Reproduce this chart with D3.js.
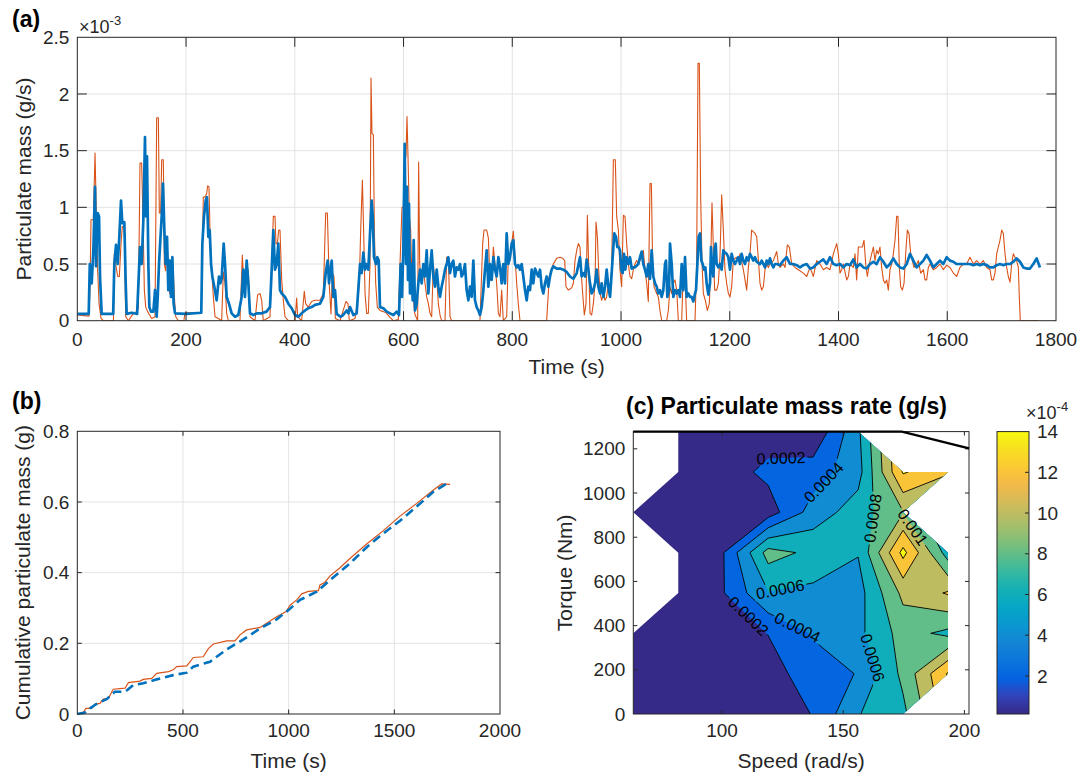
<!DOCTYPE html>
<html>
<head>
<meta charset="utf-8">
<title>Particulate mass</title>
<script src="https://cdn.jsdelivr.net/npm/d3@7"></script>
<style>
  html, body { margin: 0; padding: 0; background: #fff; }
  svg text { font-family: "Liberation Sans", Arial, Helvetica, sans-serif; fill: #262626; }
</style>
</head>
<body>
<svg id="fig" width="1080" height="778" viewBox="0 0 1080 778"></svg>
<script>
// ---------- (a) particulate mass rate, units of 1e-3 g/s : [time s, value] ----------
const pmRateA = [[0,0.06],[21,0.06],[23,0.5],[26.5,0.33],[29.5,0.62],[32.6,1.18],[34.4,0.48],[37.5,0.95],[40,0.92],[41.8,0.39],[44.8,0.06],[66,0.06],[68.1,0.5],[71.2,0.67],[74.3,0.5],[77.3,0.74],[80.4,1.06],[82.8,0.86],[86.5,0.87],[89,0.33],[90.8,0.06],[100,0.07],[110,0.06],[115.3,0.65],[118.4,0.5],[121.5,0.89],[124.5,1.62],[126.4,0.92],[128.2,1.45],[130.7,0.5],[132.5,0.12],[135.6,0.08],[139.9,0.08],[143,0.27],[146,0.035],[147.8,0.2],[150.3,0.5],[152.7,0.71],[155.2,0.92],[157.6,1.21],[160.1,0.8],[162.5,0.5],[165,0.74],[167.4,0.27],[169.9,0.53],[172.3,0.21],[174.8,0.56],[177.2,0.15],[179.7,0.065],[200,0.06],[228,0.07],[230,0.68],[233,0.92],[236.1,1.06],[238.5,1.09],[241,0.74],[243.5,0.8],[246,0.5],[248.4,0.39],[252,0.3],[256.3,0.18],[260.6,0.39],[263,0.33],[265.5,0.37],[269.2,0.68],[271.7,0.5],[274.7,0.21],[279,0.15],[283.9,0.065],[290,0.035],[296.2,0.05],[302.3,0.21],[305.4,0.45],[308.4,0.21],[311.5,0.53],[314.6,0.33],[317.6,0.065],[324,0.05],[330,0.065],[339,0.065],[348,0.08],[354.4,0.12],[357.5,0.45],[360.5,0.8],[363.6,0.45],[366.7,0.5],[369.7,0.68],[372.8,0.27],[375.9,0.24],[382,0.21],[388.1,0.15],[394.3,0.11],[400.4,0.05],[406.5,0.035],[412.6,0.065],[418.8,0.09],[424.9,0.11],[431,0.12],[437.2,0.14],[446.4,0.15],[452.5,0.21],[456.8,0.42],[460.5,0.53],[463,0.33],[467.9,0.53],[470.9,0.21],[474,0.27],[477,0.06],[484,0.035],[489,0.05],[495.4,0.09],[498.5,0.065],[501.6,0.12],[507.7,0.05],[513.8,0.065],[520,0.5],[523,0.42],[526.1,0.6],[529.2,0.45],[532.2,0.5],[535.3,0.45],[538.4,0.77],[541.4,1.06],[543.3,0.92],[545.7,0.56],[549.4,0.5],[551.8,0.56],[554.3,0.53],[556.7,0.12],[562.9,0.11],[569,0.08],[575.1,0.065],[581.3,0.05],[587.4,0.08],[591.7,0.05],[594.7,0.5],[597.2,0.21],[599.7,0.65],[602.1,1.56],[604.5,0.5],[606.4,1.18],[608.2,0.36],[610.1,1.03],[611.9,0.24],[614.4,0.5],[616.8,0.18],[618.7,0.71],[621.1,0.09],[624.2,0.15],[627.2,0.33],[630.3,0.45],[633.4,0.33],[636.4,0.5],[639.5,0.39],[642.6,0.62],[645.6,0.24],[648.7,0.45],[651.8,0.62],[654.8,0.39],[657.9,0.3],[661,0.45],[664,0.3],[667.1,0.21],[670.1,0.3],[673.2,0.37],[676.3,0.45],[679.3,0.5],[682.4,0.56],[685.5,0.42],[688.5,0.5],[691.6,0.53],[694.6,0.39],[697.7,0.47],[700.8,0.45],[703.8,0.5],[706.9,0.39],[710,0.42],[713,0.5],[716.1,0.27],[719.2,0.18],[722.2,0.3],[725.3,0.21],[728.4,0.53],[731.4,0.18],[734.5,0.12],[737.6,0.09],[740.6,0.05],[743.7,0.12],[746.8,0.27],[749.8,0.45],[752.9,0.62],[756,0.3],[759,0.5],[762.1,0.36],[765.2,0.56],[768.2,0.45],[771.3,0.39],[774.4,0.56],[777.4,0.47],[780.5,0.33],[783.5,0.5],[786.6,0.33],[789.7,0.77],[792.7,0.5],[795.8,0.56],[798.9,0.68],[801.9,0.71],[805,0.5],[808.1,0.47],[811.1,0.49],[814.2,0.45],[817.3,0.5],[820.3,0.39],[823.4,0.27],[826.5,0.18],[829.5,0.3],[832.6,0.27],[835.7,0.45],[838.7,0.33],[841.8,0.46],[844.9,0.42],[847.9,0.39],[851,0.45],[854,0.3],[857.1,0.24],[860.2,0.33],[863.2,0.39],[866.3,0.3],[869.4,0.39],[872.4,0.45],[875.5,0.48],[881.6,0.46],[887.8,0.46],[894,0.45],[900,0.43],[906.2,0.39],[912.3,0.37],[918.5,0.42],[921.5,0.49],[924.6,0.56],[927.6,0.39],[930.7,0.42],[933.8,0.39],[936.8,0.54],[939.9,0.45],[943,0.33],[946,0.24],[949.1,0.27],[952.2,0.33],[955.2,0.45],[958.3,0.3],[961.4,0.24],[964.4,0.33],[967.5,0.21],[970.6,0.3],[973.6,0.45],[976.7,0.3],[979.8,0.21],[982.8,0.42],[985.9,0.65],[987.7,0.77],[990.8,0.74],[993.2,0.65],[995.7,0.65],[998.1,0.62],[1000.6,0.45],[1003,0.42],[1005.5,0.59],[1007.9,0.45],[1010.4,0.56],[1013.5,0.5],[1016.5,0.56],[1019.6,0.46],[1022.7,0.47],[1025.7,0.47],[1031.9,0.5],[1034.9,0.56],[1038,0.61],[1041,0.5],[1044.1,0.45],[1047.2,0.39],[1050.2,0.5],[1053.3,0.37],[1056.4,0.62],[1059.4,0.39],[1062.5,0.33],[1065.6,0.3],[1068.6,0.24],[1071.7,0.27],[1074.8,0.21],[1077.8,0.27],[1080.9,0.5],[1082.7,0.53],[1085.2,0.21],[1088.3,0.27],[1090.1,0.68],[1093.2,0.5],[1096.2,0.21],[1099.3,0.27],[1102.4,0.24],[1105.4,0.27],[1108.5,0.21],[1111.6,0.5],[1114.6,0.27],[1117.7,0.56],[1120.7,0.21],[1123.8,0.24],[1126.9,0.21],[1129.9,0.21],[1133,0.17],[1136.1,0.24],[1137.9,0.27],[1140.4,0.5],[1142.8,0.74],[1145.3,0.77],[1147.7,0.53],[1150.2,0.5],[1152.6,0.45],[1155.1,0.47],[1157.5,0.33],[1160.6,0.23],[1163.7,0.33],[1165.5,0.65],[1167.3,0.5],[1169.8,0.39],[1172.2,0.62],[1174.1,0.68],[1175.9,0.5],[1179,0.47],[1182,0.5],[1185.1,0.45],[1188.2,0.62],[1191.2,0.6],[1194.3,0.59],[1197.4,0.56],[1200.4,0.45],[1203.5,0.59],[1206.6,0.53],[1209.6,0.5],[1212.7,0.53],[1215.8,0.56],[1218.8,0.5],[1221.9,0.59],[1224.9,0.53],[1228,0.5],[1231.1,0.56],[1234.1,0.53],[1237.2,0.59],[1240.3,0.56],[1243.3,0.53],[1246.4,0.56],[1249.5,0.52],[1255.6,0.5],[1258.7,0.53],[1261.7,0.5],[1264.8,0.47],[1267.9,0.53],[1270.9,0.5],[1274,0.55],[1277.1,0.5],[1280.1,0.47],[1283.2,0.5],[1286.3,0.5],[1292.4,0.49],[1298.5,0.53],[1304.6,0.56],[1307.7,0.53],[1310.8,0.5],[1316.9,0.5],[1323,0.49],[1329.2,0.47],[1335.3,0.49],[1341.4,0.5],[1347.6,0.46],[1353.7,0.47],[1359.9,0.5],[1366,0.52],[1372.1,0.54],[1378.2,0.5],[1384.4,0.56],[1390.5,0.5],[1396.6,0.49],[1402.8,0.5],[1408.9,0.47],[1415,0.5],[1421.2,0.49],[1427.3,0.54],[1433.4,0.47],[1439.5,0.5],[1445.7,0.47],[1451.8,0.46],[1457.9,0.5],[1464.1,0.52],[1470.2,0.5],[1476.3,0.56],[1482.5,0.52],[1488.6,0.47],[1494.7,0.5],[1500.8,0.55],[1507,0.5],[1513.1,0.47],[1519.2,0.46],[1525.4,0.5],[1531.5,0.59],[1537.6,0.53],[1543.7,0.47],[1549.9,0.5],[1556,0.53],[1562.1,0.58],[1568.3,0.53],[1574.4,0.47],[1580.5,0.5],[1586.7,0.53],[1592.8,0.5],[1598.9,0.56],[1605,0.53],[1611.2,0.52],[1617.3,0.5],[1629.6,0.5],[1641.8,0.5],[1648,0.49],[1654.1,0.5],[1660.2,0.49],[1666.3,0.5],[1672.5,0.49],[1678.6,0.47],[1684.7,0.47],[1690.9,0.49],[1697,0.5],[1703.1,0.49],[1709.3,0.5],[1715.4,0.5],[1721.5,0.52],[1727.6,0.55],[1733.8,0.52],[1739.9,0.47],[1746,0.46],[1752.2,0.46],[1758.3,0.5],[1764.4,0.55],[1770.5,0.47]];

const pmRateB = [[0,0.05],[21.5,0.04],[23.4,0.3],[25.2,0.89],[29.5,0.89],[32.6,1.48],[35,0.95],[37.5,0.44],[40,0.15],[43.6,0.02],[48,0],[66.5,0],[68.1,0.59],[70.6,0.5],[74.3,0.39],[77.3,0.39],[80.4,0.68],[82.8,0.83],[86.5,0.83],[89,0.035],[94,0],[103,0.065],[109.2,0.08],[112.3,0.11],[115.3,1.39],[118.4,1.39],[121.5,0.74],[123.3,0.27],[125.8,0.12],[129.4,0.08],[136.8,0.02],[142.9,0.035],[146,1.79],[149.1,1.79],[150.9,0.95],[153.3,0.95],[155.2,1.42],[158.2,1.42],[160.1,0.5],[162.5,0.44],[165,0.68],[167.4,0.5],[169.9,0.24],[173.6,0.27],[176,0.5],[178.5,0.21],[181,0.035],[186,0],[196,0],[198,0.07],[228,0.07],[231.8,1.09],[234.9,1.09],[237.9,1.12],[239.8,1.19],[242.2,1.18],[244,0.8],[247.1,0.45],[250.2,0.21],[253.3,0.035],[259.4,0.02],[265.5,0],[268.6,0.43],[271.7,0.33],[274.7,0.065],[277.8,0],[299.2,0],[303.5,0.58],[305.9,0.36],[308.4,0.21],[311.5,0.47],[314.6,0.44],[317.6,0.035],[326.8,0],[331.7,0.23],[336,0.24],[339.1,0.18],[342.1,0],[354.4,0.035],[357.5,0.5],[360.5,0.92],[363.6,0.92],[365.4,0.68],[367.9,0.68],[370.4,0.8],[372.8,0.8],[375.9,0.36],[378.9,0.18],[382,0.035],[388.1,0],[400.4,0],[403.5,0.2],[405.3,0.035],[412.6,0],[417.5,0.26],[420,0.15],[424.9,0.12],[431,0.17],[437.2,0.18],[446.4,0.18],[452.5,0.24],[456.8,0.95],[459.9,0.95],[463.6,0.3],[466.6,0.06],[469.1,0.42],[472.1,0.39],[474.6,0.02],[483.2,0],[494.2,0.17],[497.9,0.15],[500.3,0],[510.8,0.02],[515,0.15],[518.7,0.33],[521.2,0.8],[524.3,1.24],[526.7,0.77],[529.2,0.24],[532.2,0.065],[535.3,0.065],[538.4,0.5],[540.2,2.14],[542,1.65],[544.5,1.64],[546.3,0.8],[548.8,0.33],[551.8,0.12],[556.7,0.09],[562.9,0.08],[569,0.065],[575.1,0.03],[581.3,0],[590.5,0.01],[593.5,0.5],[597.2,1.0],[599.7,1.0],[601.5,1.39],[604.5,1.45],[606.4,1.8],[608.2,1.45],[610.7,0.92],[613.1,0.8],[615.6,0.33],[618,0.21],[620.5,0.065],[622.9,0.035],[626,0],[627.8,1.4],[629.7,0.5],[632.1,0.36],[636.4,0.44],[639.5,0.33],[642.6,0.21],[645.6,0.15],[648.7,0.065],[651.8,0.035],[654.8,0.5],[657.9,0.33],[661,0.39],[664,0.15],[667.1,0.05],[670.1,0],[676.3,0],[679.3,0.56],[682.4,0.56],[685.5,0.035],[688.5,0],[740.6,0],[745.6,0.68],[748,0.8],[752.9,0.8],[756,0.73],[759,0.36],[762.1,0.36],[765.2,0.65],[768.2,0.5],[771.3,0.33],[774.4,0.065],[777.4,0.035],[780.5,0.27],[783.5,0],[789.7,0.035],[792.7,0.56],[795.8,0.53],[798.9,0.68],[801.9,0.79],[805,0.56],[808.1,0.33],[811.1,0.15],[814.2,0],[863.2,0],[868.1,0.39],[871.2,0.44],[875.5,0.5],[881.6,0.55],[887.8,0.56],[892.7,0.55],[896.4,0.53],[898.8,0.3],[903.1,0.27],[909.3,0.29],[912.3,0.33],[915.4,0.53],[918.5,0.62],[921.5,0.68],[924.6,0.65],[926.4,0.45],[929.5,0.24],[932.5,0.05],[935.6,0.15],[938.1,0.93],[940.5,0.5],[943,0.065],[946,0.05],[949.1,0.15],[952.2,0.33],[954,0.87],[956.5,0.74],[958.9,0.45],[961.4,0.24],[964.4,0.18],[967.5,0.24],[970.6,0.18],[973.6,0.21],[976.7,0.33],[979.8,0.3],[982.8,0.45],[985.9,1.42],[989.5,1.42],[992,0.92],[995.1,0.8],[998.1,0.45],[1001.2,0.3],[1004.3,0.93],[1007.3,0.92],[1010.4,0.68],[1013.5,0.5],[1016.5,0.39],[1019.6,0.37],[1022.7,0.45],[1025.7,0.5],[1028.8,0.53],[1031.9,0.5],[1034.9,0.53],[1038,0.56],[1041,0.62],[1044.1,0.45],[1047.2,0.33],[1050.2,0.17],[1053.3,1.21],[1055.8,1.21],[1058.2,0.5],[1060.7,0.3],[1063.1,0.27],[1065.6,0.24],[1068.6,0.21],[1071.7,0.09],[1074.8,0],[1084,0],[1087,0.09],[1090.1,0.3],[1093.2,0.24],[1096.2,0.33],[1099.3,0.36],[1102.4,0.27],[1105.4,0],[1111.6,0],[1114.6,0.45],[1117.7,0.39],[1120.7,0],[1136.1,0],[1139.1,0.5],[1141.6,2.27],[1144,2.27],[1146.5,1.09],[1149,0.5],[1151.4,0.24],[1155.1,0.18],[1158.7,0.09],[1162.4,0.15],[1164.9,0.5],[1167.3,1.04],[1169.8,0.65],[1172.2,0.27],[1175.9,0.27],[1179,0.33],[1182,0.56],[1185.1,1.11],[1188.2,0.8],[1191.2,0.45],[1194.3,0.33],[1197.4,0.24],[1200.5,0.21],[1203.5,0.3],[1206.6,0.54],[1212.7,0.56],[1215.8,0.53],[1218.8,0.59],[1225,0.45],[1231.1,0.27],[1234.2,0.47],[1237.2,0.59],[1240.3,0.8],[1246.4,0.77],[1249.5,0.74],[1252.6,0.54],[1255.6,0.33],[1258.7,0.27],[1261.8,0.3],[1264.8,0.45],[1267.9,0.5],[1271,0.47],[1274,0.5],[1280.2,0.53],[1286.3,0.61],[1289.4,0.5],[1292.4,0.47],[1298.6,0.5],[1301.6,0.47],[1305.9,0.67],[1309.6,0.65],[1313.9,0.5],[1320,0.47],[1326.1,0.45],[1335.3,0.42],[1341.5,0.39],[1347.6,0.47],[1353.7,0.39],[1359.9,0.53],[1366,0.5],[1372.1,0.45],[1378.2,0.47],[1384.4,0.45],[1390.5,0.59],[1396.6,0.68],[1399.7,0.59],[1402.8,0.42],[1405.8,0.45],[1408.9,0.5],[1415,0.36],[1418.1,0.39],[1421.2,0.5],[1427.3,0.47],[1430.4,0.59],[1433.4,0.36],[1436.5,0.65],[1443.8,0.65],[1446.9,0.71],[1450,0.5],[1453,0.39],[1456.7,0.5],[1461,0.59],[1464.1,0.65],[1467.1,0.53],[1470.2,0.62],[1473.3,0.59],[1476.3,0.65],[1479.4,0.47],[1482.5,0.36],[1485.5,0.33],[1488.6,0.36],[1491.6,0.27],[1494.7,0.45],[1497.8,0.5],[1500.8,0.59],[1503.9,0.71],[1507,0.92],[1509.4,0.92],[1511.9,0.47],[1514.3,0.3],[1517.4,0.27],[1520.5,0.33],[1523.5,0.59],[1526.6,0.8],[1529.6,0.77],[1532.7,0.59],[1535.8,0.53],[1538.8,0.47],[1543.8,0.5],[1546.8,0.53],[1551.1,0.42],[1556,0.45],[1559.1,0.36],[1562.1,0.36],[1565.2,0.47],[1568.3,0.5],[1574.4,0.45],[1580.5,0.47],[1586.7,0.5],[1592.8,0.45],[1598.9,0.49],[1605,0.47],[1611.2,0.42],[1617.3,0.39],[1623.4,0.47],[1629.6,0.5],[1635.7,0.5],[1641.8,0.56],[1648,0.5],[1654.1,0.53],[1660.2,0.5],[1666.3,0.53],[1672.5,0.47],[1678.6,0.45],[1681.7,0.36],[1684.7,0.36],[1687.8,0.42],[1690.9,0.59],[1693.9,0.65],[1697,0.71],[1700.1,0.8],[1703.1,0.77],[1706.2,0.59],[1709.3,0.47],[1712.3,0.39],[1715.4,0.34],[1718.5,0.5],[1721.5,0.59],[1724.6,0.56],[1727.6,0.53],[1730.7,0.47],[1732.6,0.2],[1734.4,0],[1767.5,0]];

const rateTimeTicks = [0, 200, 400, 600, 800, 1000, 1200, 1400, 1600, 1800];
const rateTicks = [0, 0.5, 1, 1.5, 2, 2.5];

// ---------- (b) cumulative particulate mass, g : [time s, value] ----------
const cumMassA = [[0,0],[36,0.004],[60,0.016],[100,0.032],[139,0.042],[178,0.063],[226,0.063],[265,0.082],[312,0.087],[376,0.098],[454,0.11],[518,0.117],[549,0.134],[628,0.148],[707,0.183],[786,0.211],[865,0.242],[943,0.268],[999,0.294],[1054,0.323],[1133,0.346],[1196,0.379],[1290,0.426],[1369,0.472],[1448,0.511],[1527,0.547],[1606,0.587],[1685,0.629],[1764,0.658]];
const cumMassB = [[0,0],[28,0.004],[41,0.016],[68,0.016],[84,0.028],[107,0.03],[123,0.042],[147,0.044],[170,0.07],[226,0.073],[242,0.089],[297,0.093],[312,0.098],[352,0.101],[376,0.115],[431,0.12],[454,0.125],[470,0.134],[518,0.136],[549,0.16],[596,0.162],[620,0.185],[644,0.198],[707,0.207],[746,0.207],[770,0.224],[801,0.238],[865,0.245],[896,0.257],[943,0.275],[988,0.29],[1007,0.308],[1038,0.323],[1062,0.34],[1093,0.347],[1141,0.349],[1148,0.365],[1172,0.373],[1196,0.391],[1243,0.414],[1290,0.44],[1369,0.481],[1448,0.519],[1527,0.56],[1606,0.596],[1685,0.634],[1724,0.651],[1764,0.65]];
const cumTimeTicks = [0, 500, 1000, 1500, 2000];
const cumTicks = [0, 0.2, 0.4, 0.6, 0.8];

// ---------- (c) engine map of particulate mass rate, g/s ----------
const pmSpeed  = [63.4, 81.95, 100.5, 119.05, 137.6, 156.15, 174.7, 193.25];   // rad/s
const pmTorque = [0, 182.6, 365.1, 547.7, 730.3, 912.9, 1095.4, 1278];         // Nm
// one row per torque (first row = 0 Nm), one column per speed; null = no operating point
const pmRateGrid = [
  [0.000013, 0.00003, 0.00004, 0.00005, 0.00021, 0.00059, 0.00075, null],
  [0.00003, 0.00004, 0.00006, 0.00012, 0.0003, 0.00041, 0.00085, 0.00142],
  [0.00004, 0.00005, 0.00008, 0.000205, 0.00042, 0.00055, 0.00088, 0.00075],
  [null, 0.00006, 0.00019, 0.00059, 0.00055, 0.00052, 0.00105, 0.00122],
  [null, 0.00007, 0.00019, 0.00088, 0.00075, 0.00061, 0.00146, 0.0007],
  [0.00006, 0.00007, 0.0001, 0.0001, 0.00049, 0.0007, 0.00099, null],
  [null, 0.00006, 0.0001, 0.00025, 0.0003, 0.00052, 0.00142, 0.00125],
  [null, 0.00005, 0.00008, 0.0001, 0.00003, 0.00056, null, null]
];
const pmLevels = [0.0002, 0.0004, 0.0006, 0.0008, 0.0010, 0.0012, 0.0014];
const pmColorLimits = [0.000013, 0.0014];
const maxTorqueSpeed = [63.4, 174.2, 201.9];
const maxTorqueValue = [1278, 1278, 1202];
const speedTicks = [100, 150, 200];
const torqueTicks = [0, 200, 400, 600, 800, 1000, 1200];
const colorbarTicks = [2, 4, 6, 8, 10, 12, 14];   // x 1e-4
// labelled contour levels with the map point they sit near
const contourLabels = [
  {level: 0.0002, speed: 124.4, torque: 1142},
  {level: 0.0004, speed: 141.7, torque: 1051},
  {level: 0.0008, speed: 162.0, torque: 886},
  {level: 0.0010, speed: 176.9, torque: 832},
  {level: 0.0006, speed: 124.0, torque: 564},
  {level: 0.0002, speed: 110.6, torque: 440},
  {level: 0.0004, speed: 130.6, torque: 380},
  {level: 0.0006, speed: 163.3, torque: 259}
];

// parula colour map (every 4th entry of the 64-colour table)
const parulaStops = ["#352a87","#3243ba","#0363e1","#0d75dc","#1485d4","#0998d1","#06a7c6","#15b1b4","#38b99e","#65be86","#92bf73","#b7bd64","#d9ba56","#f8ba44","#fccf2e","#f5e41d","#f9fb0e"];

// ================= drawing =================
const svg = d3.select('#fig');
const defs = svg.append('defs');
const AX = '#262626', GRID = '#e3e3e3', BLUE = '#0072bd', ORANGE = '#d95319';
const TICK_FS = 19, LABEL_FS = 21;

const parula = d3.scaleLinear()
  .domain(parulaStops.map((_, i) => i === parulaStops.length - 1 ? 1 : i * 4 / 63))
  .range(parulaStops).interpolate(d3.interpolateRgb).clamp(true);

function drawGrid(g, x, y, xTicks, yTicks) {
  const [xa, xb] = x.range(), [yb, ya] = y.range();
  const gg = g.append('g').attr('stroke', GRID).attr('stroke-width', 1);
  xTicks.filter(v => x(v) > xa + 1 && x(v) < xb - 1).forEach(v =>
    gg.append('line').attr('x1', x(v)).attr('x2', x(v)).attr('y1', ya).attr('y2', yb));
  yTicks.filter(v => y(v) < yb - 1 && y(v) > ya + 1).forEach(v =>
    gg.append('line').attr('x1', xa).attr('x2', xb).attr('y1', y(v)).attr('y2', y(v)));
}

function drawFrame(g, x, y, xTicks, yTicks, o) {
  const [xa, xb] = x.range(), [yb, ya] = y.range();
  const tl = o.tickLen;
  let d = '';
  xTicks.filter(v => x(v) > xa + 1 && x(v) < xb - 1).forEach(v => {
    d += `M${x(v)},${yb}v${-tl}M${x(v)},${ya}v${tl}`;
  });
  yTicks.filter(v => y(v) < yb - 1 && y(v) > ya + 1).forEach(v => {
    d += `M${xa},${y(v)}h${tl}M${xb},${y(v)}h${-tl}`;
  });
  g.append('path').attr('d', d).attr('stroke', AX).attr('stroke-width', 1).attr('fill', 'none');
  g.append('rect').attr('x', xa).attr('y', ya).attr('width', xb - xa).attr('height', yb - ya)
    .attr('fill', 'none').attr('stroke', AX).attr('stroke-width', 1);
  g.append('g').selectAll('text').data(xTicks).join('text')
    .attr('x', v => x(v)).attr('y', yb + o.xLabelDy).attr('text-anchor', 'middle')
    .attr('font-size', TICK_FS).text(v => String(v));
  g.append('g').selectAll('text').data(yTicks).join('text')
    .attr('x', xa - 8).attr('y', v => y(v)).attr('dy', '0.35em').attr('text-anchor', 'end')
    .attr('font-size', TICK_FS).text(v => String(v));
}

function axisTitle(g, text, x, y, rotate) {
  g.append('text').attr('transform', `translate(${x},${y})` + (rotate ? ` rotate(${rotate})` : ''))
    .attr('text-anchor', 'middle').attr('font-size', LABEL_FS).text(text);
}

function exponentLabel(g, x, y, exp) {
  const t = g.append('text').attr('x', x).attr('y', y).attr('font-size', 18);
  t.append('tspan').text('\u00d710');
  t.append('tspan').attr('font-size', 13).attr('dy', -8).text(exp);
}

function panelLetter(g, text, x, y) {
  g.append('text').attr('x', x).attr('y', y).attr('font-size', 23).attr('font-weight', 'bold')
    .style('fill', '#000').text(text);
}

// ---------- panel (a) ----------
{
  const g = svg.append('g');
  const x = d3.scaleLinear().domain([0, 1800]).range([77.3, 1056]);
  const y = d3.scaleLinear().domain([0, 2.5]).range([320.7, 37.3]);
  defs.append('clipPath').attr('id', 'clipA').append('rect')
    .attr('x', 77.3).attr('y', 37.3).attr('width', 1056 - 77.3).attr('height', 320.7 - 37.3);
  drawGrid(g, x, y, rateTimeTicks, rateTicks);
  const line = d3.line().x(d => x(d[0])).y(d => y(d[1]));
  const lines = g.append('g').attr('clip-path', 'url(#clipA)');
  lines.append('path').attr('d', line(pmRateB)).attr('fill', 'none').attr('stroke', ORANGE)
    .attr('stroke-width', 1.1).attr('stroke-linejoin', 'round');
  lines.append('path').attr('d', line(pmRateA)).attr('fill', 'none').attr('stroke', BLUE)
    .attr('stroke-width', 2.7).attr('stroke-linejoin', 'round');
  drawFrame(g, x, y, rateTimeTicks, rateTicks, {tickLen: 9.5, xLabelDy: 25});
  exponentLabel(g, 79, 33, '-3');
  axisTitle(g, 'Time (s)', (77.3 + 1056) / 2, 374);
  axisTitle(g, 'Particulate mass (g/s)', 31, (37.3 + 320.7) / 2, -90);
  panelLetter(g, '(a)', 12, 27);
}

// ---------- panel (b) ----------
{
  const g = svg.append('g');
  const x = d3.scaleLinear().domain([0, 2000]).range([77.3, 500]);
  const y = d3.scaleLinear().domain([0, 0.8]).range([714, 431.3]);
  drawGrid(g, x, y, cumTimeTicks, cumTicks);
  const line = d3.line().x(d => x(d[0])).y(d => y(d[1]));
  g.append('path').attr('d', line(cumMassB)).attr('fill', 'none').attr('stroke', ORANGE)
    .attr('stroke-width', 1.2);
  g.append('path').attr('d', line(cumMassA)).attr('fill', 'none').attr('stroke', BLUE)
    .attr('stroke-width', 2.6).attr('stroke-dasharray', '9,5');
  drawFrame(g, x, y, cumTimeTicks, cumTicks, {tickLen: 4.5, xLabelDy: 23});
  axisTitle(g, 'Time (s)', (77.3 + 500) / 2, 768);
  axisTitle(g, 'Cumulative particulate mass (g)', 30, (431.3 + 714) / 2, -90);
  panelLetter(g, '(b)', 12, 409);
}

// ---------- panel (c) ----------
{
  const g = svg.append('g');
  const nx = pmSpeed.length, ny = pmTorque.length;
  const x = d3.scaleLinear().domain([pmSpeed[0], d3.max(maxTorqueSpeed)]).range([633.3, 969]);
  const y = d3.scaleLinear().domain([0, pmTorque[ny - 1]]).range([714, 431.6]);
  const val = (i, j) => (i >= 0 && i < nx && j >= 0 && j < ny) ? pmRateGrid[j][i] : null;

  // fill missing nodes so the contouring sees a complete field (masked afterwards)
  const filled = pmRateGrid.map(r => r.slice());
  for (let j = 0; j < ny; j++) for (let i = 0; i < nx; i++) {
    if (val(i, j) !== null) continue;
    const est = [];
    for (const di of [-1, 1]) for (const dj of [-1, 1]) {
      const a = val(i + di, j), b = val(i, j + dj), c = val(i + di, j + dj);
      if (a !== null && b !== null && c !== null) est.push(a + b - c);
    }
    if (est.length) filled[j][i] = d3.mean(est);
  }
  for (let j = 0; j < ny; j++) for (let i = 0; i < nx; i++) {
    if (filled[j][i] !== null) continue;
    const nb = [[i-1,j],[i+1,j],[i,j-1],[i,j+1]]
      .filter(([a, b]) => a >= 0 && a < nx && b >= 0 && b < ny && filled[b][a] !== null)
      .map(([a, b]) => filled[b][a]);
    filled[j][i] = d3.mean(nb);
  }
  const flat = filled.flat();

  // grid coordinates of d3.contours -> data -> pixels
  const gxSpeed = d3.scaleLinear().domain([0.5, nx - 0.5]).range([pmSpeed[0], pmSpeed[nx - 1]]);
  const gyTorque = d3.scaleLinear().domain([0.5, ny - 0.5]).range([pmTorque[0], pmTorque[ny - 1]]);
  const px = gx => x(gxSpeed(gx)), py = gy => y(gyTorque(gy));
  const path = d3.geoPath(d3.geoTransform({point(a, b) { this.stream.point(px(a), py(b)); }}));

  // region covered by measured points: whole cells, or the triangle of three valid corners
  let region = '';
  for (let j = 0; j < ny - 1; j++) for (let i = 0; i < nx - 1; i++) {
    const c = [[i, j], [i + 1, j], [i + 1, j + 1], [i, j + 1]].filter(([a, b]) => val(a, b) !== null);
    if (c.length >= 3) region += 'M' + c.map(([a, b]) => `${x(pmSpeed[a])},${y(pmTorque[b])}`).join('L') + 'Z';
  }
  defs.append('clipPath').attr('id', 'clipMap').append('path').attr('d', region);

  const norm = v => (v - pmColorLimits[0]) / (pmColorLimits[1] - pmColorLimits[0]);
  const contourGen = d3.contours().size([nx, ny]);
  const bandThresholds = [d3.min(flat) - 1e-6].concat(pmLevels);
  const bands = contourGen.thresholds(bandThresholds)(flat);

  const map = g.append('g').attr('clip-path', 'url(#clipMap)');
  map.append('g').selectAll('path').data(bands).join('path')
    .attr('d', path)
    .attr('fill', (d, k) => parula(norm(k === 0 ? pmColorLimits[0] : d.value)))
    .attr('stroke', (d, k) => parula(norm(k === 0 ? pmColorLimits[0] : d.value)))
    .attr('stroke-width', 0.3);

  // contour labels: snap to the nearest point of the level line
  const mask = defs.append('mask').attr('id', 'labelMask').attr('maskUnits', 'userSpaceOnUse')
    .attr('x', 0).attr('y', 0).attr('width', 1080).attr('height', 778);
  mask.append('rect').attr('x', 0).attr('y', 0).attr('width', 1080).attr('height', 778).attr('fill', '#fff');

  function nearestOnLevel(level, sx, sy) {
    const c = contourGen.contour(flat, level);
    let best = null, bd = Infinity;
    c.coordinates.forEach(poly => poly.forEach(ring => {
      const pts = ring.map(([a, b]) => [px(a), py(b)]);
      for (let k = 0; k < pts.length - 1; k++) {
        const [ax, ay] = pts[k], [bx, by] = pts[k + 1];
        const dx = bx - ax, dy = by - ay, L = dx * dx + dy * dy;
        if (L === 0) continue;
        let t = ((sx - ax) * dx + (sy - ay) * dy) / L;
        t = Math.max(0, Math.min(1, t));
        const qx = ax + t * dx, qy = ay + t * dy;
        const dd = (qx - sx) ** 2 + (qy - sy) ** 2;
        if (dd < bd) { bd = dd; best = {x: qx, y: qy, ang: Math.atan2(dy, dx) * 180 / Math.PI}; }
      }
    }));
    return best;
  }

  const labelG = g.append('g');
  contourLabels.forEach(lb => {
    const p = nearestOnLevel(lb.level, x(lb.speed), y(lb.torque));
    if (!p) return;
    let a = p.ang;
    if (a > 90) a -= 180;
    if (a <= -90) a += 180;
    const t = labelG.append('text')
      .attr('transform', `translate(${p.x},${p.y}) rotate(${a})`)
      .attr('text-anchor', 'middle').attr('dy', '0.35em').attr('font-size', 16)
      .style('fill', '#000').text(String(lb.level));
    const w = t.node().getComputedTextLength();
    mask.append('rect').attr('x', -w / 2 - 2).attr('y', -7.5).attr('width', w + 4).attr('height', 15)
      .attr('transform', `translate(${p.x},${p.y}) rotate(${a})`).attr('fill', '#000');
  });

  map.append('g').attr('mask', 'url(#labelMask)').selectAll('path').data(bands.slice(1)).join('path')
    .attr('d', path).attr('fill', 'none').attr('stroke', '#000').attr('stroke-width', 0.9)
    .attr('stroke-linejoin', 'round');
  labelG.raise();

  drawFrame(g, x, y, speedTicks, torqueTicks, {tickLen: 4, xLabelDy: 23});

  // maximum-torque curve
  g.append('path')
    .attr('d', d3.line().x(d => x(d[0])).y(d => y(d[1]))(maxTorqueSpeed.map((s, k) => [s, maxTorqueValue[k]])))
    .attr('fill', 'none').attr('stroke', '#000').attr('stroke-width', 2.2);

  axisTitle(g, 'Speed (rad/s)', (633.3 + 969) / 2, 768);
  axisTitle(g, 'Torque (Nm)', 572, (431.6 + 714) / 2, -90);
  g.append('text').attr('x', 786.5).attr('y', 414).attr('text-anchor', 'middle')
    .attr('font-size', 23).attr('font-weight', 'bold').style('fill', '#000')
    .text('(c) Particulate mass rate (g/s)');

  // colour bar
  const cb = {x: 997, w: 32};
  const cy = d3.scaleLinear().domain(pmColorLimits).range([714, 431.6]);
  const grad = defs.append('linearGradient').attr('id', 'parulaGrad')
    .attr('x1', 0).attr('y1', 1).attr('x2', 0).attr('y2', 0);
  d3.range(0, 1.0001, 1 / 32).forEach(t =>
    grad.append('stop').attr('offset', t).attr('stop-color', parula(t)));
  g.append('rect').attr('x', cb.x).attr('y', cy.range()[1]).attr('width', cb.w)
    .attr('height', cy.range()[0] - cy.range()[1]).attr('fill', 'url(#parulaGrad)')
    .attr('stroke', AX).attr('stroke-width', 1);
  let cd = '';
  colorbarTicks.forEach(v => { if (cy(v * 1e-4) > cy.range()[1] + 1) cd += `M${cb.x + cb.w},${cy(v * 1e-4)}h-4`; });
  g.append('path').attr('d', cd).attr('stroke', AX).attr('stroke-width', 1);
  g.append('g').selectAll('text').data(colorbarTicks).join('text')
    .attr('x', cb.x + cb.w + 8).attr('y', v => cy(v * 1e-4)).attr('dy', '0.35em')
    .attr('font-size', TICK_FS).text(v => String(v));
  exponentLabel(g, 1026, 419, '-4');
}
</script>
</body>
</html>
